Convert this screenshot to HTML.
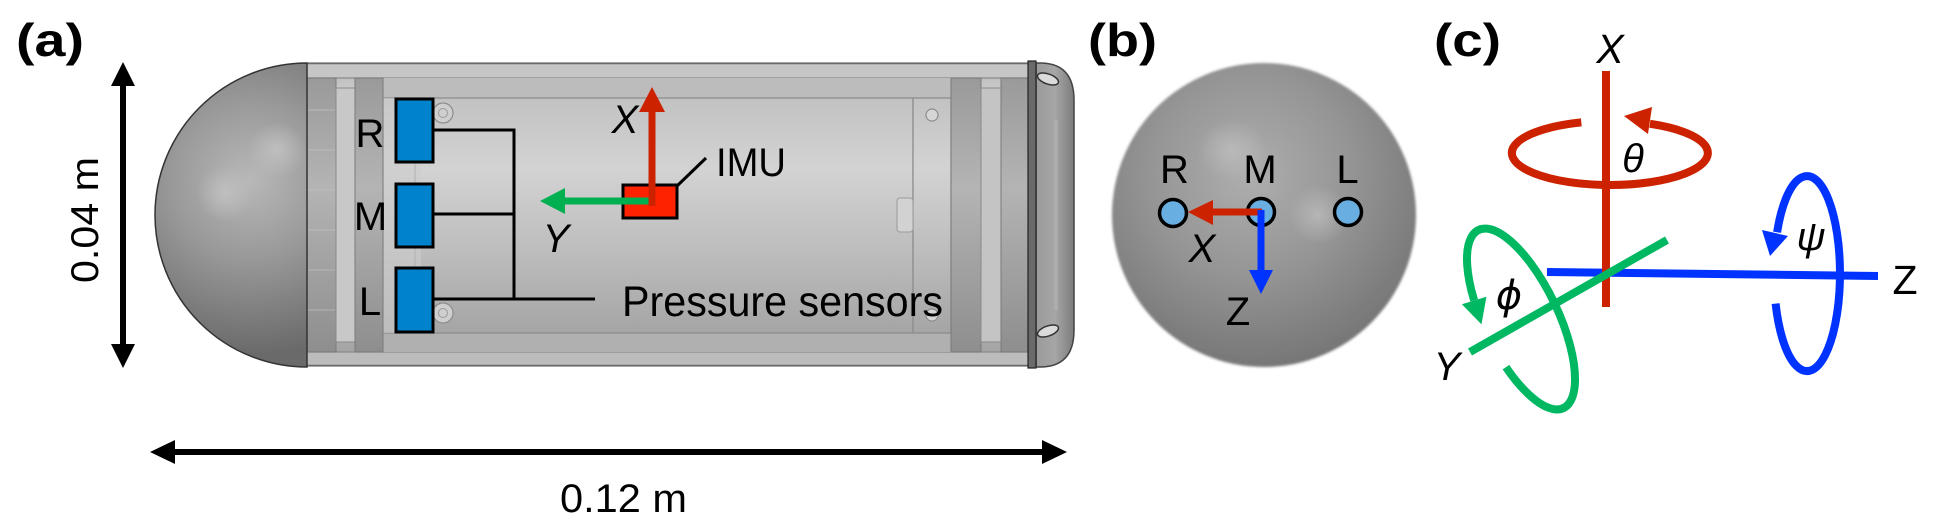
<!DOCTYPE html>
<html>
<head>
<meta charset="utf-8">
<style>
  html,body{margin:0;padding:0;background:#fff;}
  svg{display:block;}
  text{font-family:"Liberation Sans", Arial, "DejaVu Sans", sans-serif;fill:#000;}
  .it{font-style:italic;}
  .bd{font-weight:bold;}
</style>
</head>
<body>
<svg width="1937" height="530" viewBox="0 0 1937 530" xmlns="http://www.w3.org/2000/svg">
  <defs>
    <linearGradient id="tube" x1="0" y1="63" x2="0" y2="366" gradientUnits="userSpaceOnUse">
      <stop offset="0" stop-color="#b4b4b4"/>
      <stop offset="0.08" stop-color="#c8c8c8"/>
      <stop offset="0.35" stop-color="#d2d2d2"/>
      <stop offset="0.65" stop-color="#c0c0c0"/>
      <stop offset="0.92" stop-color="#a8a8a8"/>
      <stop offset="1" stop-color="#a0a0a0"/>
    </linearGradient>
    <linearGradient id="inner" x1="0" y1="98" x2="0" y2="333" gradientUnits="userSpaceOnUse">
      <stop offset="0" stop-color="#c2c2c2"/>
      <stop offset="0.3" stop-color="#d3d3d3"/>
      <stop offset="0.65" stop-color="#bdbdbd"/>
      <stop offset="1" stop-color="#a5a5a5"/>
    </linearGradient>
    <linearGradient id="ring" x1="0" y1="78" x2="0" y2="352" gradientUnits="userSpaceOnUse">
      <stop offset="0" stop-color="#9a9a9a"/>
      <stop offset="0.4" stop-color="#b4b4b4"/>
      <stop offset="1" stop-color="#8e8e8e"/>
    </linearGradient>
    <linearGradient id="capg" x1="1036" y1="0" x2="1074" y2="0" gradientUnits="userSpaceOnUse">
      <stop offset="0" stop-color="#9a9a9a"/>
      <stop offset="0.5" stop-color="#a6a6a6"/>
      <stop offset="1" stop-color="#7c7c7c"/>
    </linearGradient>
    <radialGradient id="dome" cx="250" cy="180" r="175" gradientUnits="userSpaceOnUse">
      <stop offset="0" stop-color="#b8b8b8"/>
      <stop offset="0.45" stop-color="#999999"/>
      <stop offset="1" stop-color="#6a6a6a"/>
    </radialGradient>
    <radialGradient id="sph" cx="1250" cy="175" r="200" gradientUnits="userSpaceOnUse">
      <stop offset="0" stop-color="#aeaeae"/>
      <stop offset="0.5" stop-color="#959595"/>
      <stop offset="1" stop-color="#747474"/>
    </radialGradient>
    <radialGradient id="hl" cx="0.5" cy="0.5" r="0.5">
      <stop offset="0" stop-color="#c4c4c4" stop-opacity="0.8"/>
      <stop offset="1" stop-color="#c4c4c4" stop-opacity="0"/>
    </radialGradient>
    <filter id="soft" x="-5%" y="-5%" width="110%" height="110%">
      <feGaussianBlur stdDeviation="1.2"/>
    </filter>
  </defs>

  <!-- ================= Panel (a) ================= -->
  <text class="bd" x="16" y="56" font-size="46" textLength="68" lengthAdjust="spacingAndGlyphs">(a)</text>

  <!-- vertical dimension arrow -->
  <line x1="123" y1="82" x2="123" y2="348" stroke="#000" stroke-width="6"/>
  <polygon points="111,86 135,86 123,62" fill="#000"/>
  <polygon points="111,344 135,344 123,368" fill="#000"/>
  <text transform="translate(98,220) rotate(-90)" text-anchor="middle" font-size="39" textLength="126" lengthAdjust="spacingAndGlyphs">0.04 m</text>

  <!-- horizontal dimension arrow -->
  <line x1="170" y1="452" x2="1046" y2="452" stroke="#000" stroke-width="6"/>
  <polygon points="175,440 175,464 150,452" fill="#000"/>
  <polygon points="1042,440 1042,464 1067,452" fill="#000"/>
  <text x="560" y="512" font-size="40" textLength="127" lengthAdjust="spacingAndGlyphs">0.12 m</text>

  <!-- capsule body -->
  <rect x="307" y="63" width="721" height="303" fill="url(#tube)" stroke="#6a6a6a" stroke-width="1.2"/>
  <rect x="307" y="63" width="721" height="15" fill="#c6c6c6"/>
  <rect x="307" y="352" width="721" height="14" fill="#bcbcbc"/>
  <line x1="307" y1="63.5" x2="1028" y2="63.5" stroke="#6a6a6a" stroke-width="1.5"/>
  <line x1="307" y1="365.5" x2="1028" y2="365.5" stroke="#6a6a6a" stroke-width="1.5"/>
  <line x1="307" y1="78" x2="1028" y2="78" stroke="#8a8a8a" stroke-width="1.2"/>
  <line x1="307" y1="352" x2="1028" y2="352" stroke="#8a8a8a" stroke-width="1.2"/>
  <rect x="383" y="78" width="568" height="20" fill="#bcbcbc"/>
  <rect x="383" y="333" width="568" height="19" fill="#b0b0b0"/>
  <!-- interior -->
  <rect x="383" y="98" width="530" height="235" fill="url(#inner)" stroke="#8a8a8a" stroke-width="1.2"/>
  <rect x="913" y="98" width="38" height="235" fill="url(#inner)" stroke="#8a8a8a" stroke-width="1.2"/>
  <rect x="383" y="98" width="38" height="235" fill="#cdcdcd" opacity="0.6"/>
  <line x1="415" y1="100" x2="415" y2="331" stroke="#b0b0b0" stroke-width="1"/>
  <!-- left rings -->
  <rect x="307" y="78" width="29" height="274" fill="url(#ring)" stroke="#7a7a7a" stroke-width="1"/>
  <rect x="336" y="88" width="19" height="254" fill="#c8c8c8" stroke="#8a8a8a" stroke-width="1"/>
  <rect x="355" y="78" width="28" height="274" fill="url(#ring)" stroke="#7a7a7a" stroke-width="1"/>
  <g stroke="#c2c2c2" stroke-width="1" opacity="0.7">
    <line x1="308" y1="110" x2="335" y2="110"/><line x1="308" y1="150" x2="335" y2="150"/>
    <line x1="308" y1="190" x2="335" y2="190"/><line x1="308" y1="230" x2="335" y2="230"/>
    <line x1="308" y1="270" x2="335" y2="270"/><line x1="308" y1="310" x2="335" y2="310"/>
  </g>
  <!-- right rings -->
  <rect x="951" y="78" width="30" height="274" fill="url(#ring)" stroke="#7a7a7a" stroke-width="1"/>
  <rect x="981" y="88" width="20" height="254" fill="#c4c4c4" stroke="#8a8a8a" stroke-width="1"/>
  <rect x="1001" y="78" width="27" height="274" fill="url(#ring)" stroke="#7a7a7a" stroke-width="1"/>
  <!-- end cap -->
  <path d="M1036 63 H1040 Q1074 63 1074 100 V330 Q1074 367 1040 367 H1036 Z" fill="url(#capg)" stroke="#444" stroke-width="1.5"/>
  <line x1="1056" y1="120" x2="1056" y2="310" stroke="#b8b8b8" stroke-width="3" opacity="0.6"/>
  <rect x="1028" y="61" width="8" height="307" fill="#6a6a6a" stroke="#222" stroke-width="1.2"/>
  <ellipse cx="1048" cy="79" rx="11" ry="5" transform="rotate(20 1048 79)" fill="#dadada" stroke="#333" stroke-width="1.5"/>
  <ellipse cx="1048" cy="331" rx="11" ry="5" transform="rotate(-20 1048 331)" fill="#dadada" stroke="#333" stroke-width="1.5"/>
  <!-- screws / details -->
  <circle cx="443" cy="113" r="10" fill="#cfcfcf" stroke="#8c8c8c" stroke-width="1.2"/>
  <circle cx="443" cy="113" r="4.5" fill="none" stroke="#9a9a9a" stroke-width="1"/>
  <circle cx="443" cy="313" r="10" fill="#cfcfcf" stroke="#8c8c8c" stroke-width="1.2"/>
  <circle cx="443" cy="313" r="4.5" fill="none" stroke="#9a9a9a" stroke-width="1"/>
  <circle cx="932" cy="115" r="6" fill="#d6d6d6" stroke="#8c8c8c" stroke-width="1.2"/>
  <circle cx="932" cy="315" r="6" fill="#d6d6d6" stroke="#8c8c8c" stroke-width="1.2"/>
  <rect x="897" y="198" width="16" height="34" rx="3" fill="#d2d2d2" stroke="#9a9a9a" stroke-width="1"/>
  <!-- dome -->
  <path d="M307 63 A152 152 0 0 0 307 367 Z" fill="url(#dome)" stroke="#333" stroke-width="1.5"/>
  <ellipse cx="277" cy="150" rx="30" ry="28" fill="url(#hl)"/>
  <ellipse cx="225" cy="193" rx="28" ry="28" fill="url(#hl)"/>

  <!-- sensors -->
  <rect x="396" y="99" width="37" height="63" fill="#0083cc" stroke="#000" stroke-width="3"/>
  <rect x="396" y="184" width="37" height="63" fill="#0083cc" stroke="#000" stroke-width="3"/>
  <rect x="396" y="268" width="37" height="64" fill="#0083cc" stroke="#000" stroke-width="3"/>
  <g stroke="#000" stroke-width="3" fill="none">
    <line x1="433" y1="130" x2="514" y2="130"/>
    <line x1="433" y1="214" x2="514" y2="214"/>
    <line x1="433" y1="299" x2="595" y2="299"/>
    <line x1="514" y1="128.5" x2="514" y2="300.5"/>
  </g>
  <text x="370" y="147" font-size="40" text-anchor="middle">R</text>
  <text x="370.5" y="230" font-size="40" text-anchor="middle">M</text>
  <text x="370" y="315" font-size="40" text-anchor="middle">L</text>
  <text x="622" y="316" font-size="43" textLength="321" lengthAdjust="spacingAndGlyphs">Pressure sensors</text>

  <!-- IMU -->
  <rect x="623" y="185" width="54" height="33" fill="#ff2200" stroke="#000" stroke-width="3"/>
  <line x1="677" y1="186" x2="706" y2="158" stroke="#000" stroke-width="3"/>
  <text x="716" y="176" font-size="40" textLength="70" lengthAdjust="spacingAndGlyphs">IMU</text>
  <line x1="651" y1="201" x2="562" y2="201" stroke="#00b050" stroke-width="7"/>
  <polygon points="565,188 565,214 540,201" fill="#00b050"/>
  <line x1="652" y1="206" x2="652" y2="110" stroke="#cc2200" stroke-width="7"/>
  <polygon points="639,112 665,112 652,87" fill="#cc2200"/>
  <text class="it" x="625" y="133" font-size="40" text-anchor="middle">X</text>
  <text class="it" x="556" y="252" font-size="40" text-anchor="middle">Y</text>

  <!-- ================= Panel (b) ================= -->
  <text class="bd" x="1088" y="56" font-size="46" textLength="69" lengthAdjust="spacingAndGlyphs">(b)</text>
  <circle cx="1264" cy="215" r="152" fill="url(#sph)" filter="url(#soft)"/>
  <ellipse cx="1232" cy="150" rx="35" ry="30" fill="url(#hl)" opacity="0.8"/>
  <ellipse cx="1318" cy="215" rx="30" ry="30" fill="url(#hl)" opacity="0.8"/>
  <circle cx="1173" cy="213" r="13.5" fill="#68aee0" stroke="#000" stroke-width="3.5"/>
  <circle cx="1261" cy="212" r="13.5" fill="#68aee0" stroke="#000" stroke-width="3.5"/>
  <circle cx="1348" cy="212" r="13.5" fill="#68aee0" stroke="#000" stroke-width="3.5"/>
  <line x1="1262" y1="212" x2="1210" y2="212" stroke="#cc2200" stroke-width="7"/>
  <polygon points="1213,200 1213,225 1188,212" fill="#cc2200"/>
  <line x1="1261" y1="210" x2="1261" y2="272" stroke="#0033ff" stroke-width="7"/>
  <polygon points="1249,270 1273,270 1261,294" fill="#0033ff"/>
  <text x="1174.5" y="183" font-size="40" text-anchor="middle">R</text>
  <text x="1260" y="183" font-size="40" text-anchor="middle">M</text>
  <text x="1347.5" y="183" font-size="40" text-anchor="middle">L</text>
  <text class="it" x="1202" y="262" font-size="40" text-anchor="middle">X</text>
  <text x="1238" y="325" font-size="40" text-anchor="middle">Z</text>

  <!-- ================= Panel (c) ================= -->
  <text class="bd" x="1434" y="56" font-size="46" textLength="67" lengthAdjust="spacingAndGlyphs">(c)</text>
  <text class="it" x="1610" y="63" font-size="41" text-anchor="middle">X</text>

  <!-- red rotation -->
  <path d="M1581.3 122.4 A98 32 0 1 0 1649.9 123.8" fill="none" stroke="#cc2200" stroke-width="8"/>
  <polygon points="1624,116 1652,107 1648,134" fill="#cc2200"/>
  <!-- blue axis -->
  <line x1="1547" y1="272" x2="1878" y2="276" stroke="#0033ff" stroke-width="8"/>
  <!-- red axis -->
  <line x1="1606" y1="71" x2="1606" y2="307" stroke="#cc2200" stroke-width="8"/>
  <!-- green axis -->
  <line x1="1470" y1="352" x2="1667" y2="240" stroke="#00b862" stroke-width="8"/>
  <!-- green rotation -->
  <g transform="translate(1521 319) rotate(64.5)">
    <path d="M36.9 34.3 A98.6 37 0 1 0 -36.9 34.3" fill="none" stroke="#00b862" stroke-width="8"/>
    <polygon points="-12.2,38 -38.8,47 -35,21.6" fill="#00b862"/>
  </g>
  <!-- blue rotation -->
  <path d="M1775.6 303.6 A33 97.5 0 1 0 1777.1 232.3" fill="none" stroke="#0033ff" stroke-width="8"/>
  <polygon points="1770,256 1762,230 1788,236" fill="#0033ff"/>

  <text class="it" x="1633" y="172" font-size="40" text-anchor="middle">θ</text>
  <text class="it" x="1811" y="250" font-size="40" text-anchor="middle">ψ</text>
  <text class="it" x="1509" y="309" font-size="40" text-anchor="middle" style='font-family:"DejaVu Sans","Liberation Sans",sans-serif'>ϕ</text>
  <text class="it" x="1447" y="380" font-size="40" text-anchor="middle">Y</text>
  <text x="1905" y="294" font-size="41" text-anchor="middle">Z</text>
</svg>
</body>
</html>
